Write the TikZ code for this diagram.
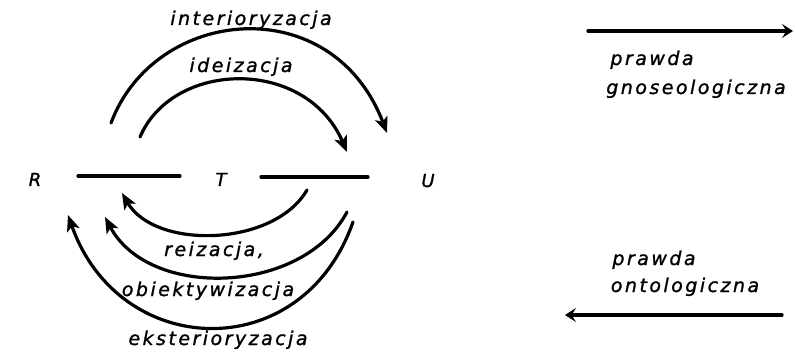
\documentclass[tikz,border=0pt]{standalone}
\usepackage{fontspec}
\setmainfont{DejaVu Sans}
\usetikzlibrary{arrows.meta}
\tikzset{
  hand/.style={font=\fontsize{19}{21}\selectfont\itshape\addfontfeature{LetterSpace=13,FakeBold=1.2}, anchor=base, inner sep=0pt},
  letter/.style={font=\fontsize{18}{20}\selectfont\itshape\addfontfeature{FakeBold=1.2}, anchor=base, inner sep=0pt},
  stroke/.style={line width=3.2pt, line cap=round},
  arc/.style={stroke, -{Stealth[length=16pt,width=13pt,inset=4pt]}},
  straight/.style={stroke, -{Stealth[length=11pt,width=14pt,inset=4.5pt]}}
}
\begin{document}
\begin{tikzpicture}[x=1pt,y=-1pt]
\useasboundingbox (0,0) rectangle (795,358);
% main letters
\node[letter] (R) at (35,186) {R};
\node[letter] (T) at (221,186) {T};
\node[letter] (U) at (428,187) {U};
% line ends
\coordinate (l1a) at (78,176);
\coordinate (l1b) at (180,176);
\coordinate (l2a) at (261,177);
\coordinate (l2b) at (368,177);
\draw[stroke] (l1a) -- (l1b);
\draw[stroke] (l2a) -- (l2b);
% top arcs
\coordinate (ia) at (111,123);
\coordinate (ib) at (387,133);
\draw[arc] (ia) .. controls (155,6) and (332,-11) .. (ib);
\coordinate (da) at (140,137);
\coordinate (db) at (347,152);
\draw[arc] (da) .. controls (173,60) and (306,57) .. (db);
% bottom arcs
\coordinate (ra) at (307,190);
\coordinate (rb) at (122,193);
\draw[arc] (ra) .. controls (274,247) and (155,250) .. (rb);
\coordinate (oa) at (347,212);
\coordinate (ob) at (105,217);
\draw[arc] (oa) .. controls (303,295) and (149,300) .. (ob);
\coordinate (ea) at (353,222);
\coordinate (eb) at (68,215);
\draw[arc] (ea) .. controls (302,367) and (119,360) .. (eb);
% arc labels
\node[hand] (tint) at (251,25) {interioryzacja};
\node[hand] (tide) at (241,72) {ideizacja};
\node[hand] (trei) at (214,256) {reizacja,};
\node[hand] (tobi) at (208,296) {obiektywizacja};
\node[hand] (teks) at (218,345) {eksterioryzacja};
% right side
\coordinate (ga) at (588,31);
\coordinate (gb) at (793,31);
\draw[straight] (ga) -- (gb);
\node[hand] (pg1) at (652,65) {prawda};
\node[hand] (pg2) at (696,94) {gnoseologiczna};
\coordinate (oa2) at (782,315);
\coordinate (ob2) at (565,315);
\draw[straight] (oa2) -- (ob2);
\node[hand] (po1) at (654,265) {prawda};
\node[hand] (po2) at (685,292) {ontologiczna};
\end{tikzpicture}
\end{document}
